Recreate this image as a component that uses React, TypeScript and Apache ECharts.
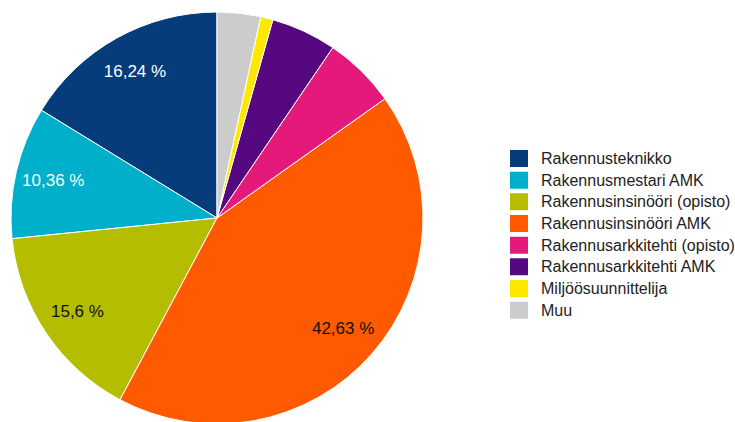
import React, { useEffect, useRef } from "react";
import * as echarts from "echarts";

const categories = [
  "Rakennusteknikko",
  "Rakennusmestari AMK",
  "Rakennusinsinööri (opisto)",
  "Rakennusinsinööri AMK",
  "Rakennusarkkitehti (opisto)",
  "Rakennusarkkitehti AMK",
  "Miljöösuunnittelija",
  "Muu",
];
const values = [16.24, 10.36, 15.6, 42.63, 5.67, 5.13, 0.97, 3.4];
const colors = ["#053C79", "#00AFCA", "#B4BD00", "#FF5A00", "#E4197A", "#55087F", "#FFE800", "#CCCCCC"];
const labelColors = ["#ffffff", "#ffffff", "#111111", "#111111", "#111111", "#ffffff", "#111111", "#111111"];

const FONT = "'Liberation Sans', Arial, Helvetica, sans-serif";

export default function App() {
  const ref = useRef<HTMLDivElement>(null);
  useEffect(() => {
    if (!ref.current) return;
    const chart = echarts.init(ref.current, null, { renderer: "svg" });
    const data = categories.map((name, i) => ({
      name,
      value: values[i],
      itemStyle: { color: colors[i] },
    }));
    const labelData = categories.map((name, i) => ({
      name,
      value: values[i],
      itemStyle: { color: "rgba(0,0,0,0)", borderWidth: 0 },
      label: { color: labelColors[i] },
    }));
    chart.setOption({
      animation: false,
      legend: {
        orient: "vertical",
        left: 508,
        top: 148,
        padding: 0,
        itemWidth: 20,
        itemHeight: 19,
        itemGap: 0.67,
        icon: "rect",
        data: categories,
        textStyle: {
          fontFamily: FONT,
          fontSize: 16,
          lineHeight: 19,
          color: "#222",
          padding: [0, 0, 0, 7],
        },
      },
      series: [
        {
          type: "pie",
          center: [217, 218],
          radius: [0, 206],
          startAngle: 90,
          clockwise: false,
          data,
          label: { show: false },
          labelLine: { show: false },
          itemStyle: { borderColor: "#ffffff", borderWidth: 1 },
          emphasis: { disabled: true },
          silent: true,
        },
        {
          type: "pie",
          center: [217, 218],
          radius: [124, 206],
          startAngle: 90,
          clockwise: false,
          data: labelData,
          silent: true,
          emphasis: { disabled: true },
          labelLine: { show: false },
          label: {
            show: true,
            position: "inside",
            fontFamily: FONT,
            fontSize: 17,
            formatter: (p: any) =>
              p.value >= 10 ? String(p.value).replace(".", ",") + " %" : "",
          },
        },
      ],
    });
    return () => chart.dispose();
  }, []);
  return (
    <div
      ref={ref}
      style={{ position: "absolute", left: 0, top: 0, width: 735, height: 422, background: "#fff" }}
    />
  );
}
